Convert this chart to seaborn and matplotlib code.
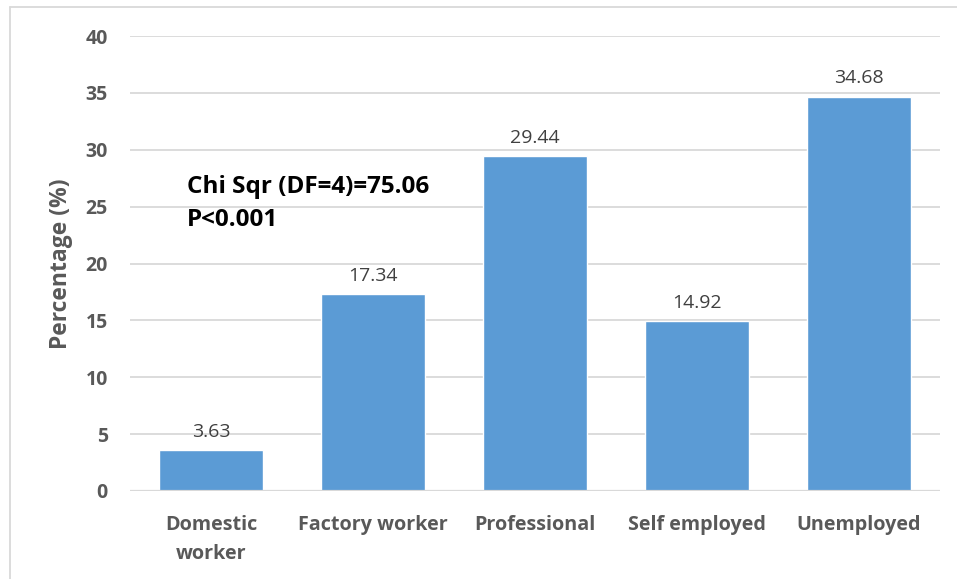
import matplotlib
matplotlib.use("Agg")
import matplotlib.pyplot as plt
import seaborn as sns
import pandas as pd
from matplotlib.lines import Line2D

categories = ["Domestic\nworker", "Factory worker", "Professional", "Self employed", "Unemployed"]
percentages = [3.63, 17.34, 29.44, 14.92, 34.68]
y_ticks = [0, 5, 10, 15, 20, 25, 30, 35, 40]

df = pd.DataFrame({"occupation": categories, "pct": percentages})

sns.set_theme(style="white")
plt.rcParams["font.family"] = ["Open Sans", "DejaVu Sans"]

W, H = 957, 579
fig = plt.figure(figsize=(W / 100, H / 100), dpi=100)
ax = fig.add_axes([130 / W, 1 - 491 / H, (940 - 130) / W, (491 - 36) / H])

sns.barplot(data=df, x="occupation", y="pct", color="#5B9BD5", saturation=1,
            width=0.64, ax=ax, zorder=3)

ax.set_ylim(0, 40)
ax.set_xlim(-0.5, len(categories) - 0.5)
ax.set_yticks(y_ticks)
ax.set_yticklabels([str(t) for t in y_ticks], fontsize=14, fontweight="bold", color="#595959")
ax.set_xticks(range(len(categories)))
ax.set_xticklabels(categories, fontsize=14.2, fontweight="bold", color="#595959",
                   linespacing=1.6)
ax.tick_params(axis="both", length=0)
ax.tick_params(axis="x", pad=17)
ax.tick_params(axis="y", pad=16)
ax.grid(axis="y", color="#D9D9D9", linewidth=1.3, zorder=0)
ax.set_axisbelow(True)
for s in ax.spines.values():
    s.set_visible(False)
ax.axhline(0, color="#D9D9D9", linewidth=1.6, zorder=4)

ax.set_xlabel("")
ax.set_ylabel("Percentage (%)", fontsize=16.5, fontweight="bold", color="#595959", labelpad=9)

for i, v in enumerate(percentages):
    ax.text(i, v + 0.8, f"{v:.2f}", ha="center", va="bottom", fontsize=14, color="#404040")

ax.text(187 / W, 1 - 204 / H, "Chi Sqr (DF=4)=75.06\nP<0.001", transform=fig.transFigure,
        ha="left", va="center", fontsize=17.5, fontweight="bold", color="black",
        linespacing=1.5)

# light frame around the chart area
fig.add_artist(Line2D([9.5 / W, 9.5 / W], [0, 1 - 6.5 / H], transform=fig.transFigure,
                      color="#D9D9D9", linewidth=1.3))
fig.add_artist(Line2D([9.5 / W, 1], [1 - 6.5 / H, 1 - 6.5 / H], transform=fig.transFigure,
                      color="#D9D9D9", linewidth=1.3))

fig.savefig("out.png", dpi=100)
